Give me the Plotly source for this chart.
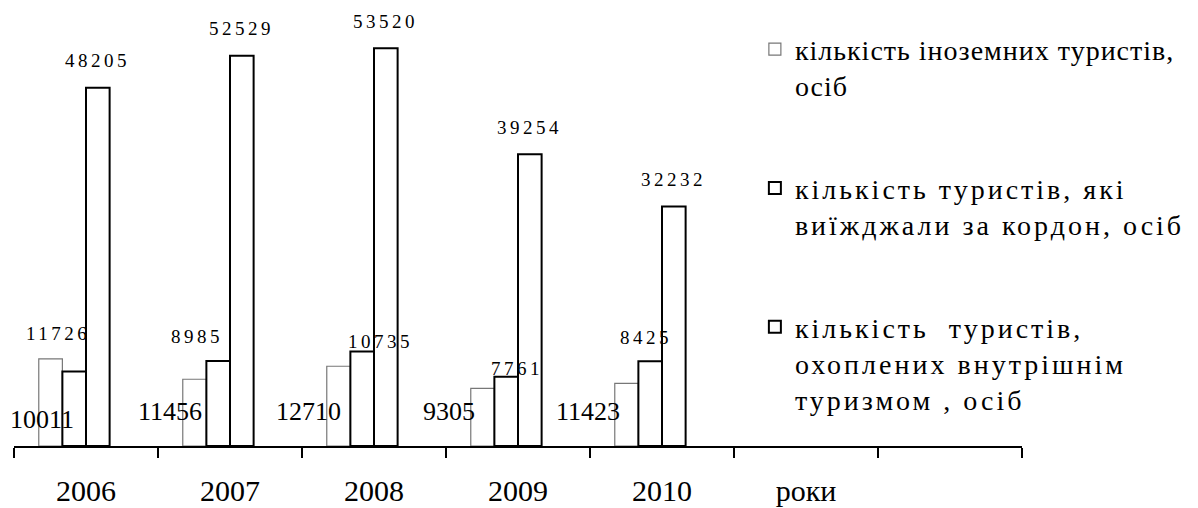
import plotly.graph_objects as go

# ---- data ----
CATEGORIES = ["2006", "2007", "2008", "2009", "2010", "роки", " "]
YEARS = ["2006", "2007", "2008", "2009", "2010"]
FOREIGN = [11726, 8985, 10735, 7761, 8425]
OUTBOUND = [10011, 11456, 12710, 9305, 11423]
DOMESTIC = [48205, 52529, 53520, 39254, 32232]
EMPTY = [0, 0, 0, 0, 0]
NAMES = [
    "кількість іноземних туристів,<br>осіб",
    "кількість туристів, які<br>виїжджали за кордон, осіб",
    "кількість  туристів,<br>охоплених внутрішнім<br>туризмом , осіб",
]

# ---- style ----
FONT = "Liberation Serif"
S1_DX = [-28, -33, 6, -1, -16]     # label offsets (px) from category centre
S1_DY = [25, 43, 25, 20, 46]       # px above bar top
S2_DX = [-44, -60, -66, -69, -74]
S2_DY = [27, 35, 35, 35, 35]       # px above baseline
S3_DY = 27


def spaced(s, sp=3.5):
    return f'<span style="letter-spacing:{sp}px">{s}</span>'


fig = go.Figure()
fig.add_trace(go.Bar(x=YEARS, y=FOREIGN, name=spaced(NAMES[0], 1.0),
                     marker=dict(color="white", line=dict(color="#777777", width=1.2)),
                     legendgroup="a"))
fig.add_trace(go.Bar(x=YEARS, y=OUTBOUND, name=spaced(NAMES[1], 3),
                     marker=dict(color="white", line=dict(color="black", width=2)),
                     legendgroup="b"))
fig.add_trace(go.Bar(x=YEARS, y=DOMESTIC, name=spaced(NAMES[2], 3),
                     marker=dict(color="white", line=dict(color="black", width=2)),
                     legendgroup="c"))
fig.add_trace(go.Bar(x=YEARS, y=EMPTY, showlegend=False, hoverinfo="skip",
                     marker=dict(color="rgba(0,0,0,0)", line=dict(width=0))))

ann = []
for i, yr in enumerate(YEARS):
    ann.append(dict(x=i, y=FOREIGN[i], xref="x", yref="y", text=spaced(str(FOREIGN[i])),
                    showarrow=False, xshift=S1_DX[i], yshift=S1_DY[i], yanchor="middle",
                    font=dict(family=FONT, size=19, color="black")))
    ann.append(dict(x=i, y=0, xref="x", yref="y", text=str(OUTBOUND[i]),
                    showarrow=False, xshift=S2_DX[i], yshift=S2_DY[i], yanchor="middle",
                    font=dict(family=FONT, size=26, color="black")))
    ann.append(dict(x=i, y=DOMESTIC[i], xref="x", yref="y", text=spaced(str(DOMESTIC[i])),
                    showarrow=False, xshift=11, yshift=S3_DY, yanchor="middle",
                    font=dict(family=FONT, size=19, color="black")))

fig.update_layout(
    width=1198, height=508,
    margin=dict(l=6, r=184, t=2, b=70, autoexpand=False),
    paper_bgcolor="white", plot_bgcolor="white",
    barmode="group", bargap=0.344, bargroupgap=0,
    font=dict(family=FONT, color="black"),
    showlegend=True,
    legend=dict(x=0.735, y=0.967, xanchor="left", yanchor="top",
                font=dict(family=FONT, size=28, color="black"),
                traceorder="grouped", tracegroupgap=63, valign="top",
                bgcolor="rgba(0,0,0,0)", borderwidth=0),
    annotations=ann,
    xaxis=dict(type="category", categoryorder="array", categoryarray=CATEGORIES,
               range=[-0.5, 6.5], showgrid=False, zeroline=False,
               showline=True, linecolor="black", linewidth=2,
               ticks="outside", tickson="boundaries", ticklen=10, tickwidth=2,
               tickcolor="black", ticklabelstandoff=17,
               tickfont=dict(family=FONT, size=30, color="black")),
    yaxis=dict(range=[0, 58680], visible=False, showgrid=False, zeroline=False),
)

fig.write_html("out.html")
